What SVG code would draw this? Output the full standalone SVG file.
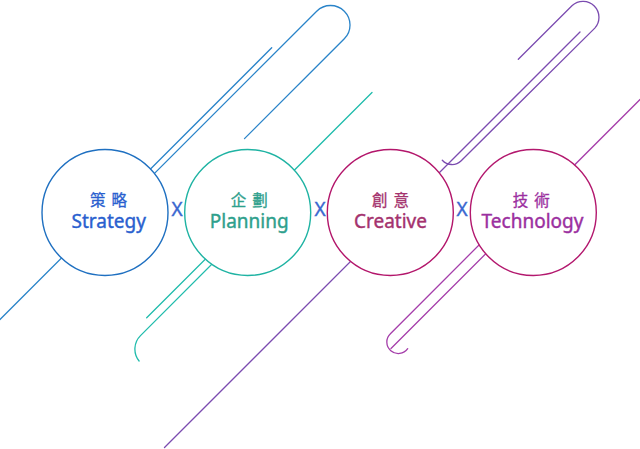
<svg xmlns="http://www.w3.org/2000/svg" width="640" height="449" viewBox="0 0 640 449">
<style>
.ln{fill:none;stroke-width:1.3;stroke-linecap:round}
.b{stroke:#2a84c9}
.t{stroke:#20bcac}
.v{stroke:#7b4cb0}
.m{stroke:#a53eaa}
.c{fill:#fff;stroke-width:1.4}
text{fill:currentColor;stroke:currentColor;stroke-width:0.4}
.zh{font-family:"Noto Sans CJK TC","Noto Sans",sans-serif;font-size:15.5px;letter-spacing:6px;text-anchor:middle;stroke-width:0.3}
.en{font-family:"Noto Sans","Liberation Sans",sans-serif;font-size:19px;text-anchor:middle}
.x{font-family:"Noto Sans","Liberation Sans",sans-serif;font-size:19px;text-anchor:middle;color:#3a68d0}
</style>
<rect width="640" height="449" fill="#fff"/>
<g id="connectors">
<path class="ln b" d="M0,319.5 L271.7,47.8"/>
<path class="ln b" d="M120,207.9 L316.7,11.2 A19.5,19.5 0 0 1 344.3,38.8 L244.5,138.6"/>
<path class="ln t" d="M146.7,317.8 L372,92.5"/>
<path class="ln t" d="M245,231 L140.5,335.6 A19,19 0 0 0 139.1,361"/>
<path class="ln v" d="M164.5,447.5 L580,32"/>
<path class="ln v" d="M518.3,59.3 L572.2,5.5 A16,16 0 0 1 594.8,28.1 L461.2,160.7 A13,13 0 0 1 442.3,160.2"/>
<path class="ln m" d="M640,99.5 L391,348.5"/>
<path class="ln m" d="M530,194 L390.4,333.7 A11.5,11.5 0 1 0 407.7,348.7"/>
</g>
<g id="node-strategy" color="#2a5fcf">
<circle class="c" cx="105" cy="212.5" r="63" stroke="#1f70c1"/>
<text class="zh" x="111.5" y="205.5">策略</text>
<text class="en" x="108.7" y="227.5">Strategy</text>
</g>
<g id="node-planning" color="#2ea08c">
<circle class="c" cx="247.7" cy="212.5" r="63" stroke="#1fb3a3"/>
<text class="zh" x="252.2" y="205.5">企劃</text>
<text class="en" x="249.2" y="227.5">Planning</text>
</g>
<g id="node-creative" color="#a4326e">
<circle class="c" cx="390.3" cy="212.5" r="63" stroke="#b3166b"/>
<text class="zh" x="393.5" y="205.5">創意</text>
<text class="en" x="390.5" y="227.5">Creative</text>
</g>
<g id="node-technology" color="#9b2fa0">
<circle class="c" cx="533.3" cy="212.5" r="63" stroke="#b3186e"/>
<text class="zh" x="534.3" y="205.5">技術</text>
<text class="en" x="532.5" y="227.5">Technology</text>
</g>
<g id="operators">
<text class="x" x="177" y="216">X</text>
<text class="x" x="320" y="216">X</text>
<text class="x" x="462" y="216">X</text>
</g>
</svg>
